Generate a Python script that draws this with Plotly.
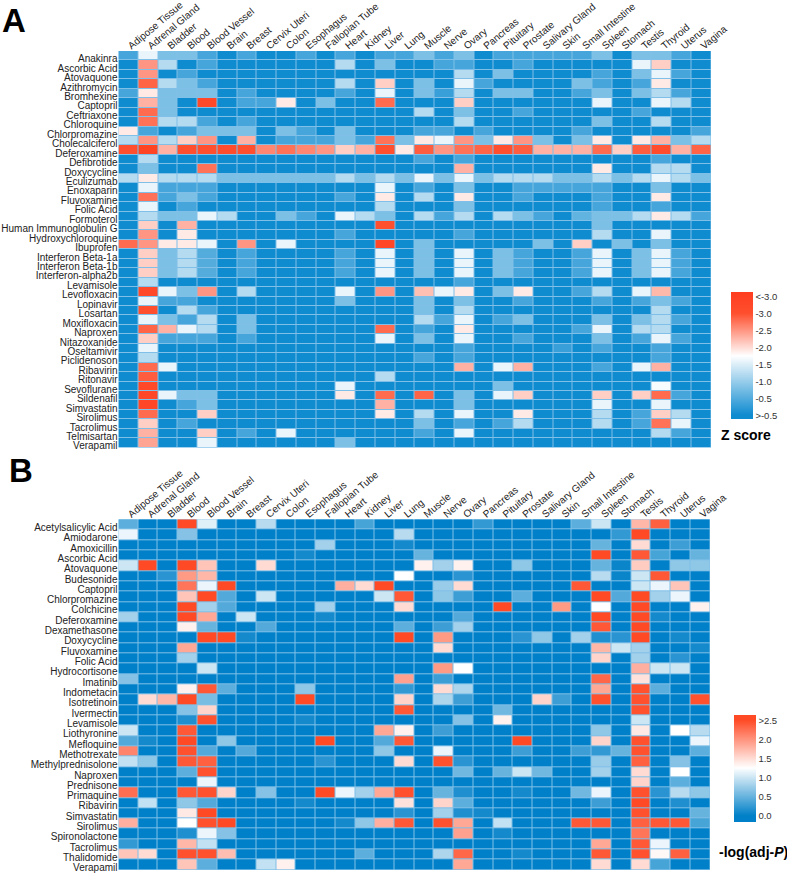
import plotly.graph_objects as go

W, H = 787, 874

tissues = ["Adipose Tissue", "Adrenal Gland", "Bladder", "Blood", "Blood Vessel", "Brain", "Breast",
           "Cervix Uteri", "Colon", "Esophagus", "Fallopian Tube", "Heart", "Kidney", "Liver", "Lung",
           "Muscle", "Nerve", "Ovary", "Pancreas", "Pituitary", "Prostate", "Salivary Gland", "Skin",
           "Small Intestine", "Spleen", "Stomach", "Testis", "Thyroid", "Uterus", "Vagina"]

drugs_a = ["Anakinra", "Ascorbic Acid", "Atovaquone", "Azithromycin", "Bromhexine", "Captopril", "Ceftriaxone",
           "Chloroquine", "Chlorpromazine", "Cholecalciferol", "Deferoxamine", "Defibrotide", "Doxycycline",
           "Eculizumab", "Enoxaparin", "Fluvoxamine", "Folic Acid", "Formoterol", "Human Immunoglobulin G",
           "Hydroxychloroquine", "Ibuprofen", "Interferon Beta-1a", "Interferon Beta-1b", "Interferon-alpha2b",
           "Levamisole", "Levofloxacin", "Lopinavir", "Losartan", "Moxifloxacin", "Naproxen", "Nitazoxanide",
           "Oseltamivir", "Piclidenoson", "Ribavirin", "Ritonavir", "Sevoflurane", "Sildenafil", "Simvastatin",
           "Sirolimus", "Tacrolimus", "Telmisartan", "Verapamil"]

drugs_b = ["Acetylsalicylic Acid", "Amiodarone", "Amoxicillin", "Ascorbic Acid", "Atovaquone", "Budesonide",
           "Captopril", "Chlorpromazine", "Colchicine", "Deferoxamine", "Dexamethasone", "Doxycycline",
           "Fluvoxamine", "Folic Acid", "Hydrocortisone", "Imatinib", "Indometacin", "Isotretinoin", "Ivermectin",
           "Levamisole", "Liothyronine", "Mefloquine", "Methotrexate", "Methylprednisolone", "Naproxen",
           "Prednisone", "Primaquine", "Ribavirin", "Simvastatin", "Sirolimus", "Spironolactone", "Tacrolimus",
           "Thalidomide", "Verapamil"]

# Panel A: size of the (negative) Z score per drug and tissue
z_a = [
 [.4,1.6,.8,.8,.4,0,.4,0,0,.4,0,.4,0,.4, .4,.8,.4,.8,0,.4,.4,.4,.4,.4,.8,0,.8,.8,.4,0],
 [0,2.5,1.2,0,.4,0,0,0,0,0,0,1.2,0,.8, 0,0,.4,.4,0,0,.4,0,0,0,0,0,1.6,2.1,0,0],
 [0,2.5,0,.4,0,0,0,0,0,0,0,0,0,0, 0,0,0,1.2,0,.8,0,0,0,0,.4,0,.8,1.6,.4,0],
 [0,2.85,1.2,.8,.4,0,0,0,0,0,0,1.2,0,2.1, 0,.8,0,1.6,.4,0,0,0,0,.8,.4,0,.4,1.9,0,0],
 [.4,1.9,.8,.8,.8,0,.4,0,0,0,0,.4,0,1.6, 0,.8,.3,1.2,0,.8,.8,0,0,.4,.8,0,.8,1.2,.4,0],
 [0,2.3,.8,0,3.2,0,.4,.4,1.9,0,.8,0,0,2.8, 0,0,0,2.1,0,0,0,0,0,0,1.6,0,0,1.6,1.2,0],
 [0,2.8,.8,0,0,0,0,0,0,0,0,0,0,0, 0,1.2,0,.8,0,0,.4,0,0,0,0,0,.4,0,0,0],
 [0,2.75,1.2,1.2,.4,0,.4,0,0,0,0,0,0,0, 0,0,0,1.2,0,0,0,0,0,0,.8,0,0,1.2,0,0],
 [1.9,.4,0,.4,.8,.8,.8,0,.8,.4,0,.8,0,0, 0,.4,.4,0,.4,0,0,0,0,.4,0,0,0,0,0,.4],
 [1.2,2.5,1.2,2.1,2.5,0,2.3,0,.4,.4,.4,.8,.4,2.75, .8,1.9,1.6,2.5,.8,1.9,2.5,.8,0,.8,1.9,0,1.9,2.3,.8,1.2],
 [3.0,3.4,2.3,3.0,3.0,3.1,3.0,2.6,2.75,2.6,2.5,2.1,2.3,3.0, 1.9,2.9,2.5,2.75,2.85,3.0,2.9,2.3,2.3,2.3,2.8,2.1,2.9,3.1,2.3,2.85],
 [0,1.2,0,0,0,0,0,0,0,0,0,0,0,0, 0,.4,0,.4,0,0,0,0,0,0,0,0,0,.4,0,0],
 [0,.8,0,0,2.75,0,0,0,0,0,0,0,0,0, 0,0,0,2.3,0,0,0,0,0,0,1.9,0,0,1.2,1.2,0],
 [1.2,1.9,1.2,1.2,1.2,.8,.8,.8,.8,.8,.8,1.2,.8,1.2, .8,1.6,.8,1.6,.8,1.2,1.2,1.2,.8,.8,1.2,.8,1.2,1.6,1.2,.8],
 [0,1.6,.4,.4,.4,0,0,0,0,0,0,0,0,1.6, 0,.4,0,.8,0,0,.4,.4,.4,.4,.4,0,0,.8,0,0],
 [0,2.75,.4,.8,.4,0,0,0,0,0,0,.4,0,1.9, 0,1.2,0,1.9,0,0,.4,0,0,0,.4,0,0,1.9,0,0],
 [0,1.6,0,.4,0,0,0,0,0,0,0,0,0,1.2, 0,0,0,.8,0,0,0,0,0,0,.4,0,0,.4,0,0],
 [0,1.2,.8,.8,1.6,1.2,0,0,.8,.4,0,1.6,1.2,.8, 0,1.2,.4,1.2,0,1.2,.8,.4,0,.6,.8,.8,1.2,1.9,1.2,.4],
 [0,2.1,0,2.3,0,0,0,0,0,0,0,0,0,3.0, 0,0,0,0,0,0,0,0,0,0,.8,0,0,0,0,0],
 [0,2.5,0,1.9,0,0,0,0,0,0,0,.4,0,0, 0,0,0,.4,0,0,0,0,0,0,1.2,0,0,1.6,0,0],
 [2.8,2.5,1.9,1.9,1.6,0,2.5,0,1.6,0,0,0,0,3.3, 0,.8,0,0,0,0,0,.8,0,2.1,0,.8,0,.8,0,0],
 [0,2.1,.8,1.2,.5,0,.4,0,0,0,0,.4,0,1.6, 0,.8,0,1.6,0,.8,.4,0,0,.4,1.6,0,.8,1.6,.4,0],
 [0,2.1,.8,1.2,.5,0,.4,0,0,0,0,.4,0,1.6, 0,.8,0,1.6,0,.8,.4,0,0,.4,1.6,0,.8,1.6,.4,0],
 [0,2.1,.8,1.2,.5,0,.4,0,0,0,0,.4,0,1.6, 0,.8,0,1.6,0,.8,.4,0,0,.4,1.6,0,.8,1.6,.4,0],
 [0,1.2,0,0,0,0,0,0,0,0,0,0,0,0, 0,0,0,.4,0,0,0,0,0,0,0,0,0,0,0,0],
 [0,3.2,1.6,.8,2.5,0,1.2,0,0,0,0,1.6,0,2.5, 0,2.2,1.6,1.9,0,.8,1.9,0,0,.4,1.2,0,1.6,2.25,0,0],
 [0,1.6,.4,.4,0,0,0,0,0,0,0,.8,0,0, 0,.8,0,.8,0,0,.4,0,0,0,.4,0,.4,.8,.4,0],
 [0,3.0,0,1.2,.4,0,0,0,0,0,0,0,0,0, 0,.8,0,1.2,0,0,0,0,0,0,0,0,0,1.2,0,0],
 [0,1.6,.8,.4,1.2,0,.8,0,0,0,0,0,0,0, 0,1.2,.4,1.6,0,.4,.8,0,0,0,.8,0,.8,1.2,.4,0],
 [0,2.85,2.3,1.6,1.2,0,.8,0,0,0,0,0,0,2.8, 0,.4,0,1.9,0,0,0,0,0,.4,1.6,0,1.2,1.2,0,0],
 [0,2.1,.4,.4,.4,0,.4,0,0,0,0,0,0,1.6, 0,.8,0,1.6,0,0,.4,0,0,0,.8,0,.4,1.6,.4,0],
 [0,1.6,0,0,0,0,0,0,0,0,0,0,0,0, 0,0,0,.4,0,0,0,0,.3,0,.4,0,0,.4,0,0],
 [0,1.2,0,0,0,0,0,0,0,0,0,0,0,0, 0,.4,0,.4,0,0,0,0,0,0,0,0,0,.4,0,0],
 [0,2.8,1.6,0,0,0,0,0,0,0,0,0,0,0, 0,0,0,2.3,0,1.6,2.3,0,0,0,.4,0,1.6,2.3,0,0],
 [0,2.9,0,0,0,0,0,0,0,0,0,0,0,1.2, 0,0,0,0,0,0,0,0,0,0,0,0,0,0,0,0],
 [0,3.2,0,0,0,0,0,0,0,0,0,1.6,0,0, 0,0,0,0,0,.8,0,0,0,0,0,0,0,1.7,0,0],
 [0,3.3,1.6,.8,.8,0,0,0,0,0,0,1.9,0,2.8, 0,2.85,0,.8,0,1.6,2.1,0,0,0,2.1,0,2.1,2.8,.4,0],
 [0,3.3,0,.4,.8,0,0,0,0,0,0,0,0,2.3, 0,0,0,.8,0,0,0,0,0,0,1.6,0,0,1.6,0,0],
 [0,2.8,0,0,2.1,0,0,0,0,0,0,0,0,1.9, 0,1.2,0,1.6,0,0,1.9,0,0,0,1.2,0,.4,2.1,1.2,0],
 [0,2.1,0,.4,0,0,0,0,0,0,0,0,0,0, 0,.8,0,.4,0,.4,1.2,0,0,0,1.2,0,.4,2.75,1.6,0],
 [0,2.3,0,0,2.1,0,.4,0,1.6,0,0,0,0,0, 0,.4,0,1.6,0,0,0,0,0,0,0,0,0,1.2,.4,0],
 [0,2.4,0,0,1.6,0,0,0,0,0,0,.8,0,0, 0,0,0,0,0,0,0,0,0,0,0,0,0,0,0,0],
]

# Panel B: -log(adj-P) per drug and tissue
p_b = [
 [.45,0,0,2.5,1.1,0,0,.9,0,0,0,0,.35,0, 0,0,0,0,.25,0,0,0,0,.45,1.0,0,1.75,2.35,0,0],
 [1.15,0,0,.65,0,0,0,0,0,0,0,0,0,0, .9,0,0,0,0,0,0,0,0,0,0,.25,2.5,0,0,0],
 [0,0,0,0,0,0,0,0,0,0,.8,0,0,0, .1,0,0,0,0,0,0,0,0,0,.5,0,1.5,0,.3,0],
 [0,0,0,0,0,0,0,0,0,.1,0,0,0,0, 0,.5,0,0,0,0,0,0,0,0,2.5,0,2.4,.35,0,.5],
 [1.0,2.5,0,2.5,1.65,0,0,1.5,0,0,0,0,0,0, 0,1.35,.8,1.35,0,0,.7,0,0,0,.5,.05,1.6,0,.7,.7],
 [0,0,.2,1.95,1.75,0,0,0,0,0,0,0,0,0, 1.25,0,0,.2,0,0,0,0,0,0,.9,.05,1.0,2.4,0,0],
 [0,0,0,2.2,1.15,2.5,0,0,0,0,0,1.8,1.5,2.5, 0,0,.75,1.5,0,0,0,0,0,2.4,0,0,1.0,1.15,1.65,0],
 [0,0,0,1.65,2.5,.4,0,1.0,0,0,0,0,0,1.0, 2.4,0,.7,.3,0,0,.45,0,0,0,2.5,.4,2.5,.8,1.15,0],
 [0,0,0,2.5,.8,.4,0,0,0,0,.8,0,0,0, 1.5,0,0,0,0,2.5,0,0,1.95,0,1.25,0,2.5,0,0,1.35],
 [.8,0,0,2.5,1.85,0,1.0,0,0,0,.1,0,0,0, 0,0,0,.4,0,0,0,0,0,0,2.5,0,2.5,.1,0,0],
 [0,0,0,1.35,.5,0,0,.4,0,0,0,0,0,0, .45,0,.3,.8,0,0,0,0,0,0,2.4,0,2.5,0,0,0],
 [0,0,0,0,2.5,2.5,.1,0,0,0,0,0,0,0, 2.5,0,1.95,0,0,0,.2,.7,0,.8,.15,.2,2.5,0,.1,0],
 [0,0,0,1.85,0,0,0,0,0,0,0,0,0,0, 0,0,1.5,0,0,0,0,0,0,0,1.75,1.0,.8,0,0,.1],
 [0,0,0,.8,0,0,0,0,0,0,0,0,0,0, 0,0,0,0,0,0,0,0,0,0,1.55,0,.8,0,.2,0],
 [0,0,0,0,1.0,0,0,0,0,0,0,0,0,0, 0,0,1.95,1.25,0,0,0,0,0,0,0,0,1.8,1.0,1.0,0],
 [.65,0,0,0,0,0,0,0,0,0,0,0,0,0, 1.9,0,.3,0,0,0,0,0,0,0,2.3,0,1.45,0,0,0],
 [0,0,0,1.35,2.4,.45,0,0,0,.7,0,0,0,0, .25,0,1.5,.85,0,0,0,0,0,0,1.85,0,2.45,.45,0,0],
 [0,1.5,1.75,2.5,.6,0,0,0,0,2.5,0,0,0,0, 1.55,0,.85,.3,0,0,0,1.55,.3,0,2.45,0,2.45,0,0,2.45],
 [0,0,0,.65,1.55,0,0,0,0,0,0,0,0,0, 2.4,0,0,0,0,.55,0,0,0,0,0,0,2.45,0,0,0],
 [0,0,0,.15,2.45,0,0,0,0,.1,0,0,0,0, 0,0,0,.65,0,1.35,0,0,0,0,0,0,1.0,0,0,0],
 [1.0,0,0,2.4,0,0,0,0,0,0,0,0,0,1.85, 1.35,0,.3,0,0,0,0,0,0,0,.7,0,1.4,0,1.25,.9],
 [.4,.1,0,2.5,0,.7,0,0,0,0,2.5,0,0,.4, 2.4,0,0,0,0,0,2.5,0,0,0,1.55,0,2.45,0,0,1.15],
 [2.1,0,0,2.45,.4,0,.4,0,0,0,0,0,0,.7, 0,0,1.15,0,0,0,.3,0,0,.3,.25,.5,2.45,0,0,.45],
 [.95,.7,0,2.4,2.35,0,0,0,0,0,.2,0,0,0, 1.5,0,2.45,.2,0,0,0,0,0,0,.75,0,2.35,0,.65,0],
 [0,0,0,.45,2.45,0,0,0,0,0,0,0,0,0, 0,0,0,.55,0,.5,1.0,.55,0,0,.8,0,1.5,0,1.25,0],
 [0,0,0,0,1.15,0,0,0,0,0,0,0,0,0, 0,0,0,0,0,0,0,0,0,0,0,0,1.55,0,.45,0],
 [2.25,0,0,2.4,2.45,1.55,0,.65,0,0,2.5,1.15,.8,1.85, 2.45,0,.5,.15,0,0,.1,0,0,.55,1.15,0,2.45,.2,.9,.7],
 [0,.95,0,.7,.4,0,0,0,0,.1,0,0,0,0, 1.45,0,1.55,.45,0,0,0,0,0,0,.3,0,2.5,0,.15,0],
 [0,0,0,1.4,2.5,0,0,0,0,0,0,0,0,0, .2,0,.8,.15,.1,0,0,0,0,0,0,0,2.45,0,0,.5],
 [1.8,0,0,1.25,2.45,2.5,0,0,0,0,0,.1,.7,1.8, 2.4,0,2.45,1.85,0,.95,0,0,0,2.4,2.4,0,2.35,2.4,2.4,.35],
 [0,0,0,.15,1.15,.65,0,0,0,0,0,0,0,0, 0,0,0,1.9,0,.1,0,0,0,0,0,0,2.2,0,0,0],
 [.25,0,0,1.75,.95,0,0,0,0,0,0,0,0,0, 0,0,0,0,0,0,0,0,0,0,1.85,0,2.4,1.15,0,0],
 [1.65,1.5,0,2.45,2.45,1.7,0,0,0,0,0,0,.45,0, 0,0,.85,2.3,0,0,.1,0,0,0,2.4,0,2.45,1.3,2.35,0],
 [0,0,0,1.65,.45,0,0,.95,1.35,0,0,0,0,0, 0,0,0,1.85,0,0,0,0,0,0,1.5,0,1.5,.35,0,0],
]

ticks_a = [0, .5, 1, 1.5, 2, 2.5, 3, 3.5]
ticktext_a = [">-0.5", "-0.5", "-1.0", "-1.5", "-2.0", "-2.5", "-3.0", "<-3.0"]
ticks_b = [0, .5, 1, 1.5, 2, 2.5]
ticktext_b = ["0.0", "0.5", "1.0", "1.5", "2.0", ">2.5"]

FONT = "Liberation Sans, Arial, sans-serif"


def px_x(x):
    return x / W


def px_y(y):
    return 1 - y / H


def scale(stops, lo, hi):
    return [[(v - lo) / (hi - lo), c] for v, c in stops]


LO_A, HI_A = -0.115, 3.63
LO_B, HI_B = -0.164, 2.63
scale_a = scale([(LO_A, "#0f8bd0"), (0, "#0f8bd0"), (1.75, "#ffffff"), (3.0, "#ff4f2e"), (HI_A, "#ff3d1f")], LO_A, HI_A)
scale_b = scale([(LO_B, "#0080c8"), (0, "#0080c8"), (1.25, "#ffffff"), (2.5, "#ff4a25"), (HI_B, "#ff4a25")], LO_B, HI_B)

fig = go.Figure()


def cbar(x, top, bottom, vals, text):
    return dict(x=px_x(x), xanchor="left", xref="paper", y=px_y(bottom), yanchor="bottom", yref="paper",
                len=bottom - top, lenmode="pixels", thickness=22, thicknessmode="pixels",
                tickmode="array", tickvals=vals, ticktext=text, ticks="",
                tickfont=dict(family=FONT, size=9.5, color="#333"), outlinewidth=0,
                xpad=0, ypad=0, borderwidth=0)


fig.add_trace(go.Heatmap(z=z_a, x=tissues, y=drugs_a, xaxis="x", yaxis="y", zmin=LO_A, zmax=HI_A,
                         colorscale=scale_a, xgap=1, ygap=1, hoverinfo="skip",
                         colorbar=cbar(730.7, 292.7, 419.3, ticks_a, ticktext_a)))
fig.add_trace(go.Heatmap(z=p_b, x=tissues, y=drugs_b, xaxis="x2", yaxis="y2", zmin=LO_B, zmax=HI_B,
                         colorscale=scale_b, xgap=1, ygap=1, hoverinfo="skip",
                         colorbar=cbar(734, 715, 822.3, ticks_b, ticktext_b)))

xax = dict(side="top", tickangle=-40, ticks="", showgrid=False, zeroline=False, showline=False,
           tickfont=dict(family=FONT, size=10, color="#222"), tickmode="linear", dtick=1, automargin=False,
           ticklabelstandoff=-3)
yax = dict(autorange="reversed", ticks="", showgrid=False, zeroline=False, showline=False,
           tickfont=dict(family=FONT, size=10, color="#222"), tickmode="linear", dtick=1, automargin=False,
           ticklabelshift=-3)


def text(x, y, s, size, bold=True, anchor="left"):
    return dict(x=px_x(x), y=px_y(y), xref="paper", yref="paper", text=("<b>%s</b>" % s) if bold else s,
                showarrow=False, xanchor=anchor, yanchor="middle", font=dict(family=FONT, size=size, color="black"),
                borderpad=0, xshift=0)


fig.update_layout(
    width=W, height=H, margin=dict(l=0, r=0, t=0, b=0), paper_bgcolor="white", plot_bgcolor="#80c0e8",
    xaxis=dict(xax, domain=[px_x(118.5), px_x(711)], anchor="y"),
    yaxis=dict(yax, domain=[px_y(447.7), px_y(51)], anchor="x"),
    xaxis2=dict(xax, domain=[px_x(118.5), px_x(710)], anchor="y2"),
    yaxis2=dict(yax, domain=[px_y(870), px_y(519.3)], anchor="x2"),
    annotations=[
        text(1, 20, "A", 33),
        text(8, 470, "B", 33),
        text(720, 435, "Z score", 14),
        text(718, 852, "-log(adj-<i>P</i>)", 14),
    ],
)

fig.write_html("out.html", config=dict(displayModeBar=False), post_script="document.body.style.margin='0';")
